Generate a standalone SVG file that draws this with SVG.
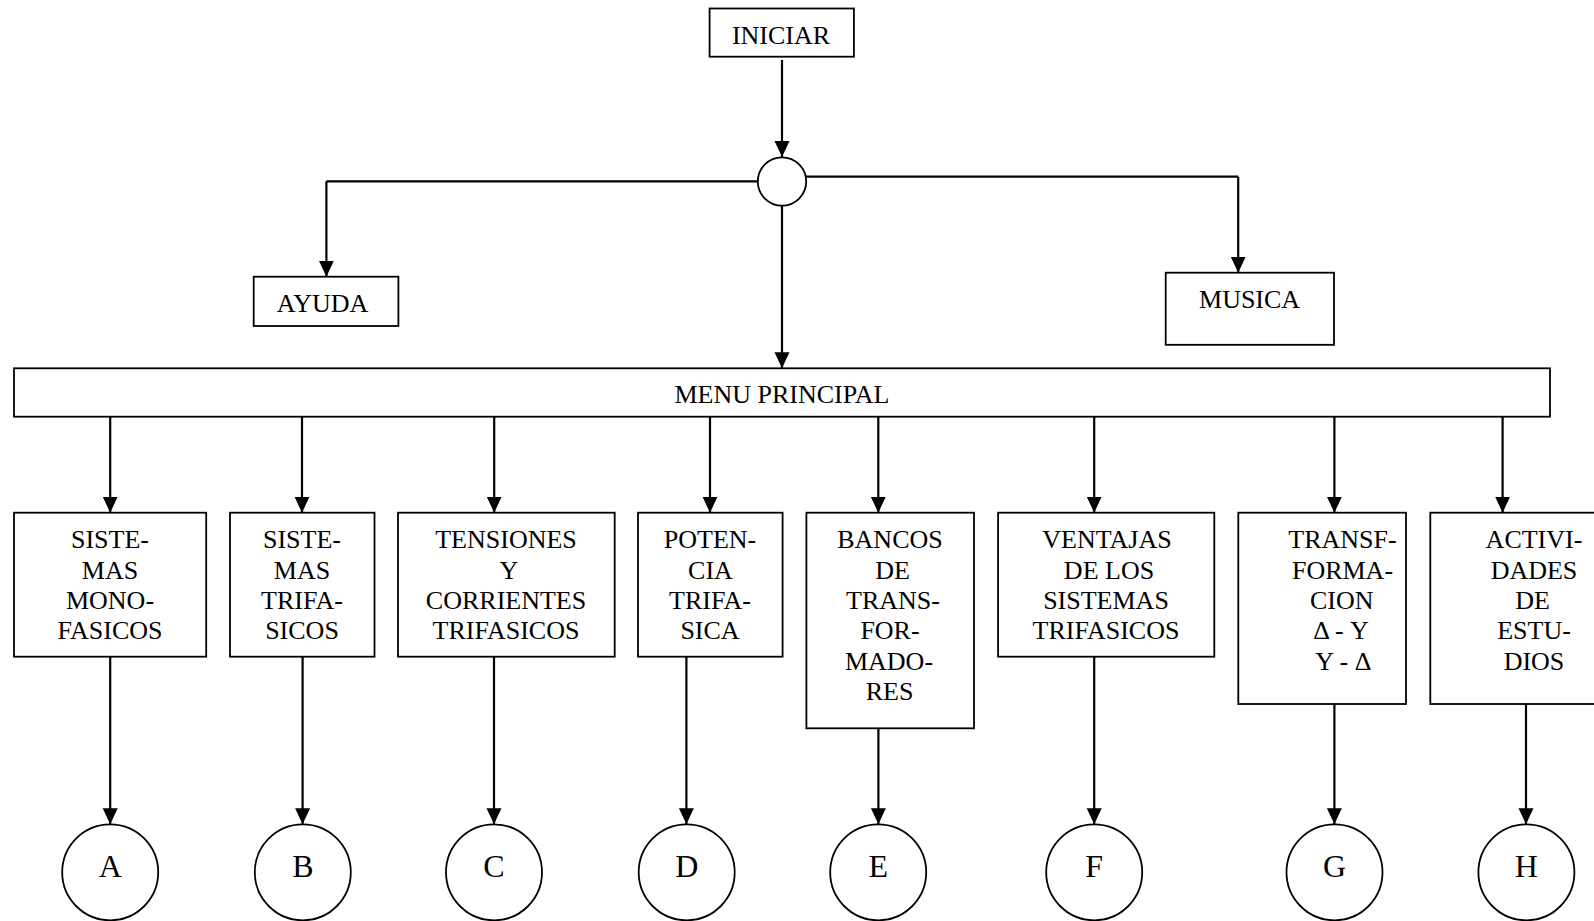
<svg xmlns="http://www.w3.org/2000/svg" width="1594" height="921" viewBox="0 0 1594 921">
<style>
.box{fill:#fff;stroke:#000;stroke-width:1.8}
.c{fill:#fff;stroke:#000;stroke-width:1.8}
.t{font-family:"Liberation Serif","Times New Roman",serif;font-size:26px;fill:#000;text-anchor:middle}
.L{font-family:"Liberation Serif","Times New Roman",serif;font-size:32px;fill:#000;text-anchor:middle}
.ln{fill:none;stroke:#000;stroke-width:2.2}
.ar{fill:none;stroke:#000;stroke-width:2.2;marker-end:url(#ah)}
</style>
<defs>
<marker id="ah" markerUnits="userSpaceOnUse" markerWidth="17" markerHeight="16" refX="16" refY="8" orient="auto">
<path d="M0,0.5 L16,8 L0,15.5 Z" fill="#000"/>
</marker>
</defs>
<rect width="1594" height="921" fill="#fff"/>

<g id="connectors">
<path class="ar" d="M782,60 V157"/>
<path class="ln" d="M758,181.3 H326.4"/>
<path class="ar" d="M326.4,181.3 V276.7"/>
<path class="ln" d="M805.5,176.7 H1238.2"/>
<path class="ar" d="M1238.2,176.7 V272.7"/>
<path class="ar" d="M782,205.7 V368.3"/>
<path class="ar" d="M110.2,416.7 V512.7"/>
<path class="ar" d="M302,416.7 V512.7"/>
<path class="ar" d="M494.2,416.7 V512.7"/>
<path class="ar" d="M710,416.7 V512.7"/>
<path class="ar" d="M878.3,416.7 V512.7"/>
<path class="ar" d="M1094.2,416.7 V512.7"/>
<path class="ar" d="M1334.4,416.7 V512.7"/>
<path class="ar" d="M1502.6,416.7 V512.7"/>
<path class="ar" d="M110.2,656.7 V824.3"/>
<path class="ar" d="M302.6,656.7 V824.3"/>
<path class="ar" d="M494,656.7 V824.3"/>
<path class="ar" d="M686.4,656.7 V824.3"/>
<path class="ar" d="M878.4,728.3 V824.3"/>
<path class="ar" d="M1094.2,656.7 V824.3"/>
<path class="ar" d="M1334.4,704 V824.3"/>
<path class="ar" d="M1526,704 V824.3"/>
</g>

<g id="iniciar">
<rect class="box" x="709.6" y="8.5" width="144.3" height="48.2"/>
<text class="t" x="781" y="44">INICIAR</text>
</g>
<g id="junction">
<circle class="c" cx="782" cy="181.5" r="24.2"/>
</g>
<g id="ayuda">
<rect class="box" x="253.7" y="276.7" width="144.7" height="49.3"/>
<text class="t" x="322.5" y="312">AYUDA</text>
</g>
<g id="musica">
<rect class="box" x="1165.7" y="272.7" width="168.3" height="72.1"/>
<text class="t" x="1249.6" y="308.3">MUSICA</text>
</g>
<g id="menu">
<rect class="box" x="14" y="368.3" width="1536" height="48.4"/>
<text class="t" x="782" y="403.3">MENU PRINCIPAL</text>
</g>

<g id="n1">
<rect class="box" x="14" y="512.7" width="192.2" height="144"/>
<text class="t" y="548.3"><tspan x="110" y="548.3">SISTE-</tspan><tspan x="110" y="578.6">MAS</tspan><tspan x="110" y="608.9">MONO-</tspan><tspan x="110" y="639.2">FASICOS</tspan></text>
</g>
<g id="n2">
<rect class="box" x="230" y="512.7" width="144.5" height="144"/>
<text class="t" y="548.3"><tspan x="302" y="548.3">SISTE-</tspan><tspan x="302" y="578.6">MAS</tspan><tspan x="302" y="608.9">TRIFA-</tspan><tspan x="302" y="639.2">SICOS</tspan></text>
</g>
<g id="n3">
<rect class="box" x="398" y="512.7" width="216.7" height="144"/>
<text class="t" y="548.3"><tspan x="506" y="548.3">TENSIONES</tspan><tspan x="509" y="578.6">Y</tspan><tspan x="506" y="608.9">CORRIENTES</tspan><tspan x="506" y="639.2">TRIFASICOS</tspan></text>
</g>
<g id="n4">
<rect class="box" x="638" y="512.7" width="144.6" height="144"/>
<text class="t" y="548.3"><tspan x="710" y="548.3">POTEN-</tspan><tspan x="710.5" y="578.6">CIA</tspan><tspan x="710" y="608.9">TRIFA-</tspan><tspan x="710" y="639.2">SICA</tspan></text>
</g>
<g id="n5">
<rect class="box" x="806.4" y="512.7" width="167.6" height="215.6"/>
<text class="t" y="548.3"><tspan x="890" y="548.3">BANCOS</tspan><tspan x="892.5" y="578.6">DE</tspan><tspan x="893" y="608.9">TRANS-</tspan><tspan x="890" y="639.2">FOR-</tspan><tspan x="889" y="669.5">MADO-</tspan><tspan x="889.6" y="699.8">RES</tspan></text>
</g>
<g id="n6">
<rect class="box" x="998.1" y="512.7" width="216.2" height="144"/>
<text class="t" y="548.3"><tspan x="1107" y="548.3">VENTAJAS</tspan><tspan x="1109" y="578.6">DE LOS</tspan><tspan x="1106" y="608.9">SISTEMAS</tspan><tspan x="1106" y="639.2">TRIFASICOS</tspan></text>
</g>
<g id="n7">
<rect class="box" x="1238.3" y="512.7" width="167.7" height="191.3"/>
<text class="t" y="548.3"><tspan x="1342.5" y="548.3">TRANSF-</tspan><tspan x="1342.5" y="578.6">FORMA-</tspan><tspan x="1341.7" y="608.9">CION</tspan><tspan x="1341" y="639.2">Δ - Y</tspan><tspan x="1343.3" y="669.5">Y - Δ</tspan></text>
</g>
<g id="n8">
<rect class="box" x="1430.3" y="512.7" width="180" height="191.3"/>
<text class="t" y="548.3"><tspan x="1534" y="548.3">ACTIVI-</tspan><tspan x="1534" y="578.6">DADES</tspan><tspan x="1532.5" y="608.9">DE</tspan><tspan x="1534" y="639.2">ESTU-</tspan><tspan x="1534" y="669.5">DIOS</tspan></text>
</g>

<g id="cA"><circle class="c" cx="110.2" cy="872.3" r="48"/><text class="L" x="110.2" y="877.3">A</text></g>
<g id="cB"><circle class="c" cx="302.8" cy="872.3" r="48"/><text class="L" x="302.8" y="877.3">B</text></g>
<g id="cC"><circle class="c" cx="494" cy="872.3" r="48"/><text class="L" x="494" y="877.3">C</text></g>
<g id="cD"><circle class="c" cx="686.7" cy="872.3" r="48"/><text class="L" x="686.7" y="877.3">D</text></g>
<g id="cE"><circle class="c" cx="878.2" cy="872.3" r="48"/><text class="L" x="878.2" y="877.3">E</text></g>
<g id="cF"><circle class="c" cx="1094.2" cy="872.3" r="48"/><text class="L" x="1094.2" y="877.3">F</text></g>
<g id="cG"><circle class="c" cx="1334.5" cy="872.3" r="48"/><text class="L" x="1334.5" y="877.3">G</text></g>
<g id="cH"><circle class="c" cx="1526.4" cy="872.3" r="48"/><text class="L" x="1526.4" y="877.3">H</text></g>
</svg>
